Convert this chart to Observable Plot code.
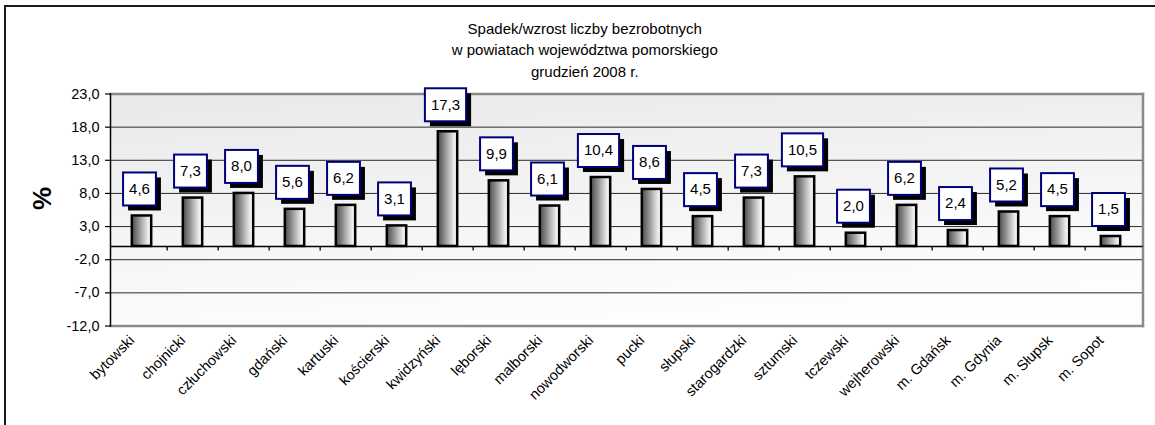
<!DOCTYPE html>
<html>
<head>
<meta charset="utf-8">
<script src="https://cdn.jsdelivr.net/npm/d3@7"></script>
<script src="https://cdn.jsdelivr.net/npm/@observablehq/plot@0.6"></script>
<style>
  html, body { margin: 0; padding: 0; background: #fff; overflow: hidden; }
  #wrap { position: relative; width: 1155px; height: 425px; }
  #border { position: absolute; left: 4px; top: 5px; width: 1200px; height: 500px;
            border-top: 2px solid #1a1a1a; border-left: 2px solid #1a1a1a; pointer-events: none; }
</style>
</head>
<body>
<div id="wrap"><div id="border"></div></div>
<script>
const categories = ["bytowski","chojnicki","człuchowski","gdański","kartuski","kościerski","kwidzyński","lęborski","malborski","nowodworski","pucki","słupski","starogardzki","sztumski","tczewski","wejherowski","m. Gdańsk","m. Gdynia","m. Słupsk","m. Sopot"];
const values = [4.6,7.3,8.0,5.6,6.2,3.1,17.3,9.9,6.1,10.4,8.6,4.5,7.3,10.5,2.0,6.2,2.4,5.2,4.5,1.5];
const yTicks = [-12,-7,-2,3,8,13,18,23];
const titleLines = ["Spadek/wzrost liczby bezrobotnych","w powiatach województwa pomorskiego","grudzień 2008 r."];
const yLabel = "%";

const data = categories.map((name, i) => ({name, value: values[i]}));
const fmt = v => v.toFixed(1).replace(".", ",");

const W = 1155, H = 425;
const mL = 110, mR = 12.5, mT = 93.5, mB = 99.5;
const step = (W - mL - mR) / categories.length;
const FONT = "'Liberation Sans', Arial, sans-serif";

const ctx = document.createElement("canvas").getContext("2d");
ctx.font = "15px " + FONT;

const chart = Plot.plot({
  width: W, height: H,
  marginLeft: mL, marginRight: mR, marginTop: mT, marginBottom: mB,
  style: {fontFamily: FONT, fontSize: "14.5px", color: "#000", background: "transparent"},
  x: {domain: categories, padding: 0, label: null},
  y: {domain: [-12, 23], label: null},
  marks: [
    Plot.frame({fill: "url(#bgGrad)", stroke: "none"}),
    Plot.gridY(yTicks.slice(1, -1), {stroke: "#2a2a2a", strokeOpacity: 1, strokeWidth: 1}),
    Plot.frame({anchor: "top", stroke: "#8a8a8a", strokeWidth: 2.5}),
    Plot.frame({anchor: "bottom", stroke: "#8a8a8a", strokeWidth: 2.5}),
    Plot.frame({anchor: "right", stroke: "#8a8a8a", strokeWidth: 2.5}),
    Plot.frame({anchor: "left", stroke: "#000", strokeWidth: 1.5}),
    Plot.axisY({ticks: yTicks, tickFormat: fmt, tickSize: 5, tickPadding: 6, fontSize: 14.5, stroke: "#000", strokeWidth: 1.2}),
    Plot.ruleY([0], {stroke: "#000", strokeWidth: 1.6}),
    Plot.ruleX(categories.slice(1), {x: d => d, y1: 0, y2: -0.7, dx: -step / 2, stroke: "#000", strokeWidth: 1.3}),
    Plot.barY(data, {x: "name", y: "value", fill: "url(#barGrad)", stroke: "#000", strokeWidth: 2.5,
      insetLeft: (step - 20) / 2, insetRight: (step - 20) / 2}),
    Plot.text(data, {
      x: "name", y: "value", text: d => fmt(d.value), fontSize: 15, fill: "#000",
      dx: -2.5, dy: -27,
      render(index, scales, vals, dims, context, next) {
        const g = next(index, scales, vals, dims, context);
        const ns = "http://www.w3.org/2000/svg";
        const frag = context.document.createDocumentFragment();
        const h = 33;
        for (const i of index) {
          const w = ctx.measureText(fmt(data[i].value)).width + 12;
          const x = vals.x[i], y = vals.y[i];
          const s = context.document.createElementNS(ns, "rect");
          s.setAttribute("x", x - w / 2 + 5);
          s.setAttribute("y", y - h / 2 + 5);
          s.setAttribute("width", w);
          s.setAttribute("height", h);
          s.setAttribute("fill", "#000");
          frag.appendChild(s);
          const b = context.document.createElementNS(ns, "rect");
          b.setAttribute("x", x - w / 2);
          b.setAttribute("y", y - h / 2);
          b.setAttribute("width", w);
          b.setAttribute("height", h);
          b.setAttribute("fill", "#fff");
          b.setAttribute("stroke", "#00007a");
          b.setAttribute("stroke-width", 2);
          frag.appendChild(b);
        }
        g.insertBefore(frag, g.firstChild);
        return g;
      }
    }),
    Plot.axisX({tickRotate: -45, tickSize: 0, tickPadding: 12, dx: -10, fontSize: 14.5, label: null}),
    Plot.text([yLabel], {text: d => d, frameAnchor: "left", dx: -68, rotate: -90, fontSize: 26, fontWeight: "bold", fill: "#000"}),
    Plot.text([titleLines.join("\n")], {text: d => d, frameAnchor: "top", lineAnchor: "middle", lineHeight: 1.42, dx: -42, dy: -45.5, fontSize: 15, fill: "#000"})
  ]
});

const svg = d3.select(chart);
const defs = svg.insert("defs", ":first-child");
const bg = defs.append("linearGradient").attr("id", "bgGrad").attr("x1", "0").attr("y1", "0").attr("x2", "0.3").attr("y2", "1");
bg.append("stop").attr("offset", "0%").attr("stop-color", "#e9e9e9");
bg.append("stop").attr("offset", "100%").attr("stop-color", "#fdfdfd");
const bar = defs.append("linearGradient").attr("id", "barGrad").attr("x1", "0").attr("y1", "0").attr("x2", "1").attr("y2", "0");
bar.append("stop").attr("offset", "0%").attr("stop-color", "#4a4a4a");
bar.append("stop").attr("offset", "85%").attr("stop-color", "#eeeeee");
bar.append("stop").attr("offset", "100%").attr("stop-color", "#f4f4f4");

document.getElementById("wrap").insertBefore(chart, document.getElementById("border"));
chart.style.position = "absolute";
chart.style.left = "0px";
chart.style.top = "0px";
</script>
</body>
</html>
